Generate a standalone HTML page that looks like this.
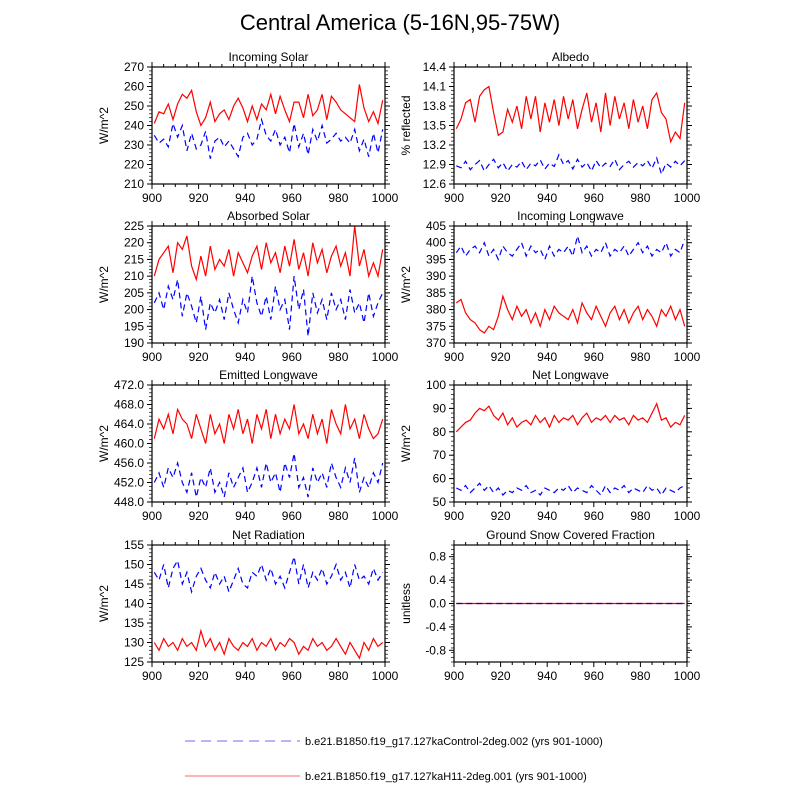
<!DOCTYPE html>
<html><head><meta charset="utf-8">
<style>
body{margin:0;background:#fff;}
svg{display:block;font-family:"Liberation Sans",Arial,sans-serif;}
</style></head>
<body>
<svg id="chart" width="800" height="800" viewBox="0 0 800 800">
<text x="400" y="30" text-anchor="middle" font-size="22">Central America (5-16N,95-75W)</text>
<g id="panels"></g>
<g>
<line x1="185" y1="741" x2="300" y2="741" stroke="#8888ff" stroke-width="1.2" stroke-dasharray="10,6"/>
<text x="305" y="745" font-size="11">b.e21.B1850.f19_g17.127kaControl-2deg.002 (yrs 901-1000)</text>
<line x1="185" y1="776" x2="300" y2="776" stroke="#ff8888" stroke-width="1.2"/>
<text x="305" y="780" font-size="11">b.e21.B1850.f19_g17.127kaH11-2deg.001 (yrs 901-1000)</text>
</g>
</svg>
<script>
const years = [901,903,905,907,909,911,913,915,917,919,921,923,925,927,929,931,933,935,937,939,941,943,945,947,949,951,953,955,957,959,961,963,965,967,969,971,973,975,977,979,981,983,985,987,989,991,993,995,997,999];
const xTicks = [900,920,940,960,980,1000];

const solarRed  = [241,247,246,251,243,251,256,254,258,247,240,244,252,242,246,248,243,250,254,249,242,250,243,251,248,256,246,255,248,242,252,252,244,256,245,248,256,243,255,252,248,246,244,242,261,249,242,247,241,253];
const solarBlue = [235,231,233,229,241,234,240,227,236,228,230,237,223,232,234,229,232,228,224,234,236,230,233,243,235,232,238,230,234,226,241,229,236,225,238,232,240,231,233,236,232,234,231,238,227,233,224,236,226,238];

const albRed  = [13.45,13.6,13.85,13.9,13.55,13.95,14.05,14.1,13.7,13.35,13.4,13.75,13.55,13.8,13.45,13.95,13.6,13.95,13.4,13.85,13.55,13.9,13.5,13.95,13.6,13.9,13.45,13.75,14.0,13.55,13.85,13.4,14.0,13.5,13.95,13.6,13.85,13.45,13.9,13.55,13.8,13.45,13.9,14.0,13.7,13.6,13.25,13.4,13.3,13.85];
const albBlue = [12.88,12.85,12.95,12.82,12.9,12.96,12.8,12.9,12.98,12.85,12.93,12.8,12.9,12.86,12.95,12.82,12.92,12.88,12.97,12.83,12.92,12.87,13.05,12.9,12.96,12.83,12.98,12.86,12.93,12.8,12.96,12.85,12.92,12.87,12.98,12.82,12.9,12.95,12.86,12.93,12.88,12.96,12.84,13.0,12.75,12.92,12.86,12.95,12.88,12.96];

const absRed  = [210,215,217,219,211,220,218,222,213,209,216,210,219,212,215,213,218,210,217,214,211,216,219,212,220,214,217,211,219,213,221,212,217,210,220,214,218,211,216,219,213,217,210,225,213,218,210,214,210,218];
const absBlue = [202,205,200,207,203,209,198,205,201,196,204,194,202,199,203,197,205,200,196,203,199,210,202,198,204,197,207,200,203,194,210,200,206,192,205,199,203,197,205,200,203,197,206,199,202,196,205,198,202,205];

const ilwBlue = [397,399,396,398,399,397,400,396,398,395,399,397,396,398,400,396,399,397,398,395,399,396,398,397,399,396,402,397,399,396,398,397,400,396,398,397,399,396,398,400,397,399,396,398,397,400,396,398,397,401];
const ilwRed  = [382,383,379,377,376,374,373,375,374,378,384,380,377,381,378,380,376,379,375,380,377,381,379,378,377,380,376,382,379,377,381,378,375,379,381,377,380,376,379,381,377,380,378,375,380,378,381,377,380,375];

const elwRed  = [461,465,463,466,462,467,465,464,461,466,463,460,466,462,464,460,466,463,467,462,465,460,466,463,467,461,466,462,465,463,468,462,464,461,466,462,465,460,467,464,462,468,463,465,461,466,463,461,462,465];
const elwBlue = [452,454,451,455,453,456,452,450,454,449,453,451,455,450,452,449,454,451,453,455,450,452,455,451,456,452,454,450,456,453,458,451,453,449,455,452,454,451,456,453,451,455,452,457,450,453,451,454,452,456];

const nlwRed  = [80,82,84,85,88,90,89,91,87,85,88,83,86,82,84,85,83,87,84,86,82,87,84,86,85,87,83,86,88,84,86,85,87,84,87,85,86,83,87,85,86,84,88,92,85,86,82,84,83,87];
const nlwBlue = [56,55,57,54,56,58,55,57,54,56,53,55,54,56,55,57,54,55,53,56,55,54,56,55,57,54,56,55,54,57,55,53,57,54,56,55,57,54,56,55,54,57,55,56,53,56,55,54,56,57];

const nrBlue = [148,146,150,144,149,151,145,148,143,147,149,146,144,148,145,147,143,146,149,145,144,148,147,150,146,149,145,147,144,148,152,145,150,144,148,146,149,145,147,150,146,148,144,150,146,147,145,149,146,148];
const nrRed  = [130,128,131,129,130,128,131,129,130,128,133,129,131,128,130,127,131,129,128,130,129,131,128,130,129,131,128,130,129,131,130,127,129,128,131,129,130,128,129,131,129,127,130,128,126,130,128,131,129,130];

const snowRed  = years.map(()=>0);
const snowBlue = [0,0,0,0,0,0,0,0,0,0,0,0,0,0,0,0,0,0,0,0,0,0,0,0,0,0,0,0,0,0,0,0,0,0,0,0,0,0,0,0,0,0,0,0,0,0,0,0,0,0];

const panelTitles = ["Incoming Solar","Albedo","Absorbed Solar","Incoming Longwave","Emitted Longwave","Net Longwave","Net Radiation","Ground Snow Covered Fraction"];
const yTitles = ["W/m^2","% reflected","W/m^2","W/m^2","W/m^2","W/m^2","W/m^2","unitless"];
const yMins = [210,12.6,190,370,448,50,125,-1];
const yMaxs = [270,14.4,225,405,472,100,155,1];
const yTickLabels = [
 ["210","220","230","240","250","260","270"],
 ["12.6","12.9","13.2","13.5","13.8","14.1","14.4"],
 ["190","195","200","205","210","215","220","225"],
 ["370","375","380","385","390","395","400","405"],
 ["448.0","452.0","456.0","460.0","464.0","468.0","472.0"],
 ["50","60","70","80","90","100"],
 ["125","130","135","140","145","150","155"],
 ["-0.8","-0.4","0.0","0.4","0.8"]
];
const redSeries = [solarRed,albRed,absRed,ilwRed,elwRed,nlwRed,nrRed,snowRed];
const blueSeries = [solarBlue,albBlue,absBlue,ilwBlue,elwBlue,nlwBlue,nrBlue,snowBlue];

const NS="http://www.w3.org/2000/svg";
const panelsG=document.getElementById('panels');
function mk(tag,attrs,parent){const e=document.createElementNS(NS,tag);for(const k in attrs)e.setAttribute(k,attrs[k]);parent.appendChild(e);return e;}
const lefts=[152,454], tops=[67,226,385,545], W=233, H=117;

for(let p=0;p<8;p++){
  const x0=lefts[p%2], y0=tops[Math.floor(p/2)];
  const g=mk('g',{},panelsG);
  
  
  const ymin=yMins[p], ymax=yMaxs[p];
  const xs=v=>x0+(v-900)/100*W;
  const ys=v=>y0+H-(v-ymin)/(ymax-ymin)*H;
  const t=mk('text',{x:x0+W/2,y:y0-6,'text-anchor':'middle','font-size':12},g);
  t.textContent=panelTitles[p];
  
  
  const yt=mk('text',{x:0,y:0,'text-anchor':'middle','font-size':12,transform:`translate(${x0-44},${y0+H/2}) rotate(-90)`},g);
  yt.textContent=yTitles[p];
  
  
  // x ticks
  xTicks.forEach((v,i)=>{
    const X=xs(v);
    mk('line',{x1:X,y1:y0+H,x2:X,y2:y0+H+5,stroke:'#000'},g);
    mk('line',{x1:X,y1:y0,x2:X,y2:y0-5,stroke:'#000'},g);
    const l=mk('text',{x:X,y:y0+H+18,'text-anchor':'middle','font-size':12},g);
    l.textContent=v;
    
    
    if(i<xTicks.length-1){for(let k=1;k<4;k++){const mx=xs(v+k*5);
      mk('line',{x1:mx,y1:y0+H,x2:mx,y2:y0+H+3,stroke:'#000'},g);
      mk('line',{x1:mx,y1:y0,x2:mx,y2:y0-3,stroke:'#000'},g);}}
  });
  // y ticks
  const labs=yTickLabels[p];
  const vals=labs.map(Number);
  const step=vals.length>1?vals[1]-vals[0]:1;
  vals.forEach((v,i)=>{
    const Y=ys(v);
    mk('line',{x1:x0-5,y1:Y,x2:x0,y2:Y,stroke:'#000'},g);
    mk('line',{x1:x0+W,y1:Y,x2:x0+W+5,y2:Y,stroke:'#000'},g);
    const l=mk('text',{x:x0-8,y:Y+4,'text-anchor':'end','font-size':12},g);
    l.textContent=labs[i];
    
    
  });
  const mstep=step/5;
  for(let v=ymin;v<=ymax+1e-9;v+=mstep){const Y=ys(v);
    mk('line',{x1:x0-3,y1:Y,x2:x0,y2:Y,stroke:'#000','stroke-width':0.7},g);
    mk('line',{x1:x0+W,y1:Y,x2:x0+W+3,y2:Y,stroke:'#000','stroke-width':0.7},g);}
  // series
  const pr=redSeries[p].map((v,i)=>xs(years[i]).toFixed(1)+','+ys(v).toFixed(1)).join(' ');
  const lr=mk('polyline',{points:pr,fill:'none',stroke:'#ff0000','stroke-width':1.2},g);
  
  
  const pb=blueSeries[p].map((v,i)=>xs(years[i]).toFixed(1)+','+ys(v).toFixed(1)).join(' ');
  const lb=mk('polyline',{points:pb,fill:'none',stroke:'#0000ff','stroke-width':1.2,'stroke-dasharray':'6,4'},g);
  
  
  const fr=mk('rect',{x:x0,y:y0,width:W,height:H,fill:'none',stroke:'#000','stroke-width':1.2},g);
  
  
}
</script>
</body></html>
